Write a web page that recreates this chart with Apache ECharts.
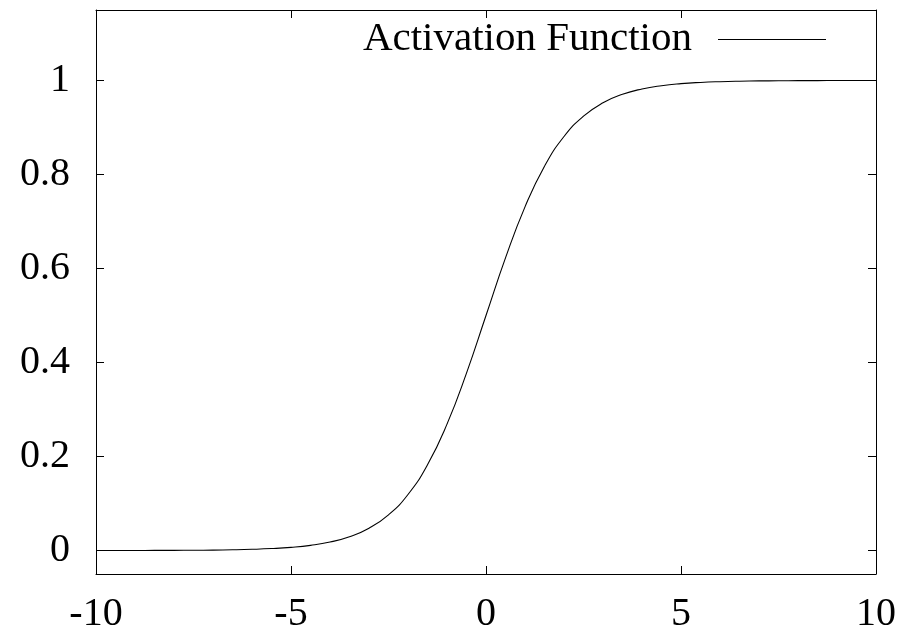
<!DOCTYPE html>
<html>
<head>
    <meta charset="utf-8">
    <title>Activation Function</title>
    <script type="text/javascript" src="https://cdn.jsdelivr.net/npm/echarts@6/dist/echarts.min.js"></script>
    <style>
        *{
            margin:0;
            padding:0;
        }
        #main{
            width:901px;
            height:634px;
            background:#fff;
        }
    </style>
</head>
<body>
<div id="main"></div>
<script type="text/javascript">
    // values, x step 0.5
    var xValues = [-10, -9.5, -9, -8.5, -8, -7.5, -7, -6.5, -6, -5.5, -5, -4.5, -4, -3.5, -3, -2.5, -2, -1.5, -1, -0.5,
        0, 0.5, 1, 1.5, 2, 2.5, 3, 3.5, 4, 4.5, 5, 5.5, 6, 6.5, 7, 7.5, 8, 8.5, 9, 9.5, 10];
    var yValues = [0.00005, 0.00007, 0.00012, 0.0002, 0.00034, 0.00055, 0.0009, 0.0015, 0.0025, 0.0041, 0.0067, 0.011, 0.018, 0.0293, 0.0474, 0.0759, 0.1192, 0.1824, 0.2689, 0.3775,
        0.5, 0.6225, 0.7311, 0.8176, 0.8808, 0.9241, 0.9526, 0.9707, 0.982, 0.989, 0.9933, 0.9959, 0.9975, 0.9985, 0.9991, 0.9994, 0.9997, 0.9998, 0.9999, 0.9999, 1];
    var yTicks = [0, 0.2, 0.4, 0.6, 0.8, 1];
    var seriesName = 'Activation Function';

    (function(){
        var dom = document.getElementById('main');
        var myChart = echarts.init(dom);
        var font = 'Liberation Serif';

        var points = [];
        for (var i = 0; i < xValues.length; i++) {
            points.push([xValues[i], yValues[i]]);
        }

        var option = {
            backgroundColor: '#fff',
            animation: false,
            grid: {left: 96, right: 25, top: 10, bottom: 60},
            legend: {
                right: 75,
                top: 19,
                padding: 0,
                align: 'right',
                icon: 'rect',
                itemWidth: 108,
                itemHeight: 1,
                textStyle: {fontFamily: font, fontSize: 41, color: '#000', padding: [0, 21, 0, 0]},
                data: [seriesName]
            },
            xAxis: [
                {
                    type: 'value', min: -10, max: 10, interval: 5,
                    axisLine: {show: true, onZero: false, lineStyle: {color: '#000', width: 1}},
                    axisTick: {show: true, inside: true, length: 8, lineStyle: {color: '#000'}},
                    axisLabel: {fontFamily: font, fontSize: 40, color: '#000', margin: 20},
                    splitLine: {show: false}
                },
                {
                    type: 'value', min: -10, max: 10, interval: 5, position: 'top',
                    axisLine: {show: true, onZero: false, lineStyle: {color: '#000', width: 1}},
                    axisTick: {show: true, inside: true, length: 8, lineStyle: {color: '#000'}},
                    axisLabel: {show: false},
                    splitLine: {show: false}
                }
            ],
            yAxis: [
                {
                    type: 'value', min: -0.05, max: 1.15,
                    axisLine: {show: true, onZero: false, lineStyle: {color: '#000', width: 1}},
                    axisTick: {show: true, inside: true, length: 8, customValues: yTicks, lineStyle: {color: '#000'}},
                    axisLabel: {fontFamily: font, fontSize: 40, color: '#000', margin: 26, customValues: yTicks},
                    splitLine: {show: false}
                },
                {
                    type: 'value', min: -0.05, max: 1.15, position: 'right',
                    axisLine: {show: true, onZero: false, lineStyle: {color: '#000', width: 1}},
                    axisTick: {show: true, inside: true, length: 8, customValues: yTicks, lineStyle: {color: '#000'}},
                    axisLabel: {show: false},
                    splitLine: {show: false}
                }
            ],
            series: [
                {
                    name: seriesName,
                    type: 'line',
                    data: points,
                    showSymbol: false,
                    smooth: true,
                    itemStyle: {color: '#000'},
                    lineStyle: {color: '#000', width: 1.1}
                }
            ]
        };
        myChart.setOption(option, true);
    })();
</script>
</body>
</html>
